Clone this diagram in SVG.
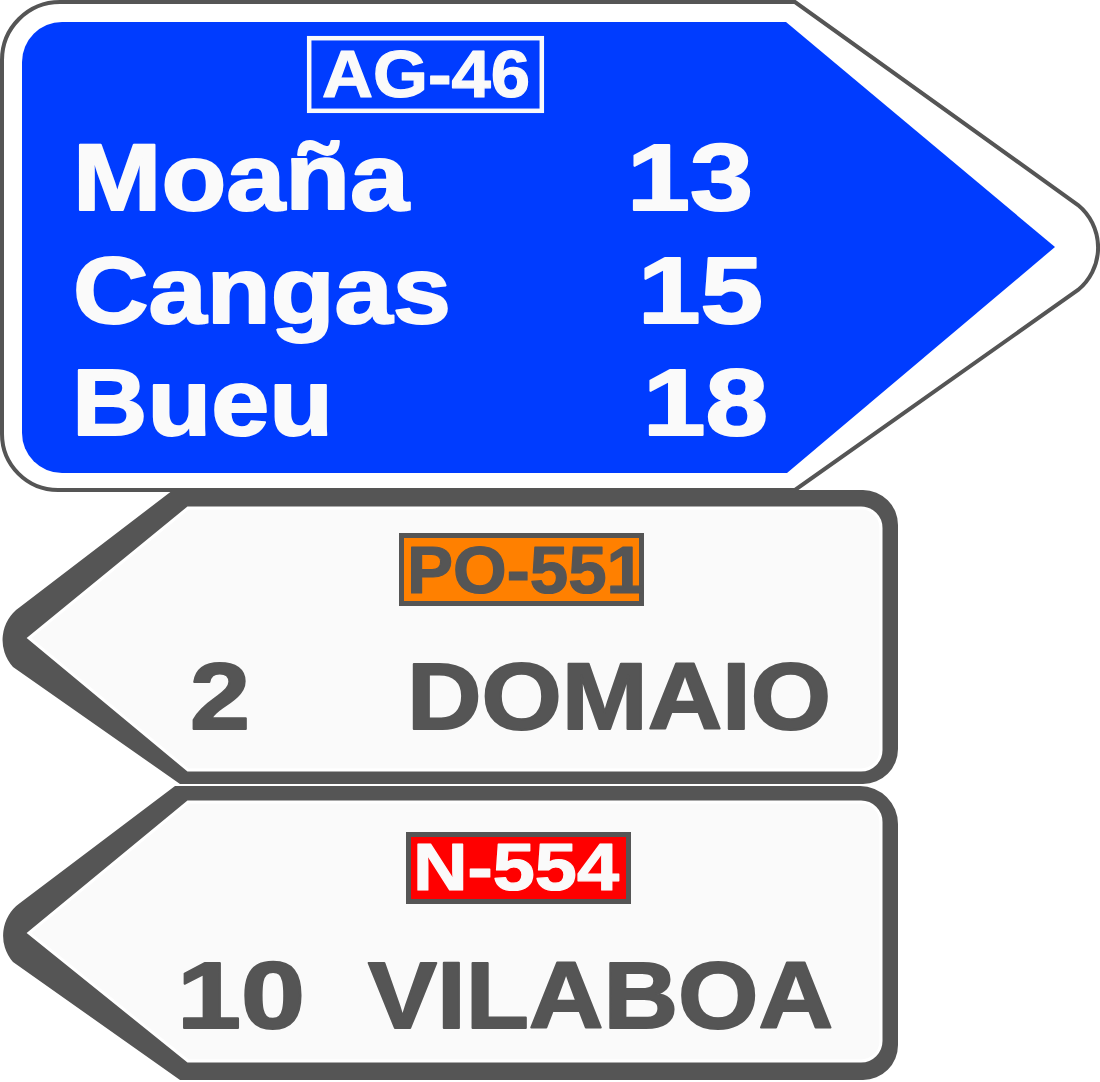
<svg xmlns="http://www.w3.org/2000/svg" width="1100" height="1082" viewBox="0 0 1100 1082">
<style>
.t{font-family:"Liberation Sans",Arial,sans-serif;font-weight:bold}
.w{fill:#fafafa;stroke:#fafafa}
.g{fill:#555555;stroke:#555555}
.big{stroke-width:2;stroke-linejoin:round}
.small{stroke-width:1.2;stroke-linejoin:round}
.frame{fill:#555555}
.panel{fill:#fafafa;stroke:#ffffff;stroke-width:3}
</style>
<rect x="0" y="0" width="1100" height="1082" fill="#ffffff"/>
<g id="sign-ag46">
<path d="M60,2 L795,2 L1078,205 A55,55 0 0 1 1078,290 L795,490 L58,490 A56,56 0 0 1 2,434 L2,60 A58,58 0 0 1 60,2 Z" fill="#ffffff" stroke="#555555" stroke-width="4"/>
<path d="M62,22 L786,22 L1055,247 L787,473 L62,473 A40,40 0 0 1 22,433 L22,62 A40,40 0 0 1 62,22 Z" fill="#003cff"/>
<rect x="309.2" y="38.2" width="232.6" height="72.6" fill="none" stroke="#fafafa" stroke-width="4.5"/>
<text class="t w small" x="322" y="97" font-size="66" textLength="208" lengthAdjust="spacingAndGlyphs">AG-46</text>
<text class="t w big" x="73" y="210" font-size="94" textLength="336" lengthAdjust="spacingAndGlyphs">Moaña</text>
<text class="t w big" x="627" y="210" font-size="94" textLength="126" lengthAdjust="spacingAndGlyphs">13</text>
<text class="t w big" x="73" y="323" font-size="94" textLength="378" lengthAdjust="spacingAndGlyphs">Cangas</text>
<text class="t w big" x="638" y="323" font-size="94" textLength="125" lengthAdjust="spacingAndGlyphs">15</text>
<text class="t w big" x="72" y="435" font-size="94" textLength="261" lengthAdjust="spacingAndGlyphs">Bueu</text>
<text class="t w big" x="643" y="435" font-size="94" textLength="125" lengthAdjust="spacingAndGlyphs">18</text>
</g>
<g id="sign-po551">
<path class="frame" d="M173,490 L863,490 A35,35 0 0 1 898,525 L898,749 A35,35 0 0 1 863,784 L180,784 L13,667 A40,40 0 0 1 20,607 Z"/>
<path class="panel" d="M188,508 L861,508 A20,20 0 0 1 881,528 L881,750 A20,20 0 0 1 861,770 L188,770 L29,638 Z"/>
<rect x="401.5" y="535.5" width="240" height="68" fill="#ff8000" stroke="#555555" stroke-width="5"/>
<text class="t g small" x="407" y="593" font-size="66" textLength="238" lengthAdjust="spacingAndGlyphs">PO-551</text>
<text class="t g big" x="190" y="729" font-size="94" textLength="60" lengthAdjust="spacingAndGlyphs">2</text>
<text class="t g big" x="407" y="729" font-size="94" textLength="424" lengthAdjust="spacingAndGlyphs">DOMAIO</text>
</g>
<g id="sign-n554">
<path class="frame" d="M175,786 L860,786 A38,38 0 0 1 898,824 L898,1045 A35,35 0 0 1 863,1080 L180,1080 L13,962 A40,40 0 0 1 20,903 Z"/>
<path class="panel" d="M188,802 L861,802 A20,20 0 0 1 881,822 L881,1041 A20,20 0 0 1 861,1061 L188,1061 L29,933 Z"/>
<rect x="408.5" y="834.5" width="220" height="67" fill="#ff0000" stroke="#555555" stroke-width="5"/>
<text class="t w small" x="413" y="890" font-size="66" textLength="206" lengthAdjust="spacingAndGlyphs">N-554</text>
<text class="t g big" x="177" y="1028" font-size="94" textLength="128" lengthAdjust="spacingAndGlyphs">10</text>
<text class="t g big" x="368" y="1028" font-size="94" textLength="465" lengthAdjust="spacingAndGlyphs">VILABOA</text>
</g>
</svg>
